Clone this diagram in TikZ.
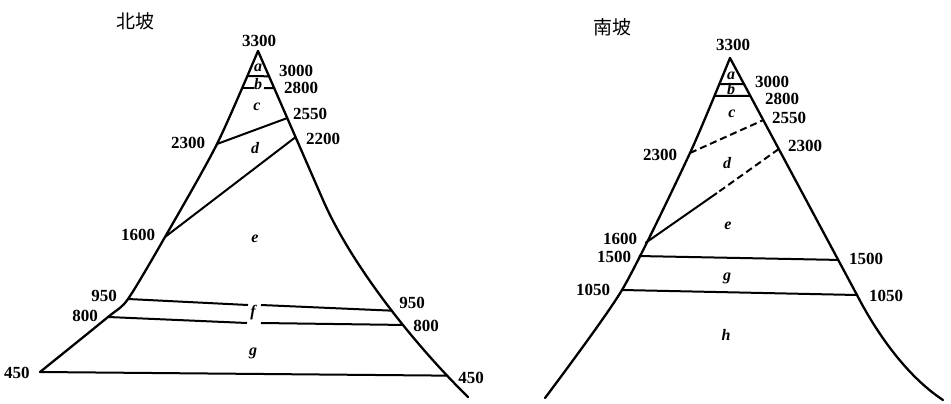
\documentclass[tikz,border=0pt]{standalone}
\usepackage{fontspec}
\setmainfont{Liberation Serif}
\newfontfamily\cjk{Noto Sans CJK SC}
\usetikzlibrary{calc}
\begin{document}
\begin{tikzpicture}[x=1pt,y=-1pt,
  edge/.style={line width=2.3pt,line cap=round,line join=round},
  belt/.style={line width=2pt},
  dashbelt/.style={line width=2pt,dash pattern=on 7pt off 4pt},
  num/.style={font=\bfseries\fontsize{17}{17}\selectfont,inner sep=0pt},
  zone/.style={font=\bfseries\itshape\fontsize{16}{16}\selectfont,inner sep=0pt},
  ttl/.style={font=\cjk\fontsize{19}{19}\selectfont,inner sep=0pt}]
\useasboundingbox (0,0) rectangle (951,404);
% ---------- North slope ----------
\node[ttl] (tN) at (135,21) {北坡};
\coordinate (NP) at (258,51);
\coordinate (NR1) at (323,200);
\coordinate (NLa) at (248,76); \coordinate (NRa) at ($(NP)!0.17!(NR1)$);
\coordinate (NLb) at (243,88); \coordinate (NRb) at ($(NP)!0.25!(NR1)$);
\coordinate (NL23) at (217,144); \coordinate (NR255) at ($(NP)!0.45!(NR1)$);
\coordinate (NL16) at (165,237); \coordinate (NR22) at ($(NP)!0.578!(NR1)$);
\coordinate (NL95) at (128,299);
\coordinate (NL80) at (108,317);
\coordinate (NL45) at (40,372);
\draw[edge] plot[smooth,tension=0.45] coordinates {(NL45) (NL80) (NL95) (NL16) (NL23) (NP)};
\draw[edge] (NP) -- (NR1) .. controls (350,262) and (410,340) .. (468,397)
  coordinate[pos=0.55] (NR95) coordinate[pos=0.62] (NR80) coordinate[pos=0.88] (NR45);
\draw[belt] (NLa) -- (NRa);
\draw[belt] (NLb) -- (254,88);
\draw[belt] (264,88) -- (NRb);
\draw[belt] (NL23) -- (NR255);
\draw[belt] (NL16) -- (NR22);
\draw[belt] (NL95) -- (248,305);
\draw[belt] (261,305) -- (NR95);
\draw[belt] (NL80) -- (247,323);
\draw[belt] (261,323) -- (NR80);
\draw[belt] (NL45) -- (NR45);
\node[num] (n3300) at (259,41) {3300};
\node[num] (n3000) at (296,71) {3000};
\node[num] (n2800) at (301,88) {2800};
\node[num] (n2550) at (310,114) {2550};
\node[num] (n2200) at (323,139) {2200};
\node[num] (n2300) at (188,143) {2300};
\node[num] (n1600) at (138,235) {1600};
\node[num] (n950l) at (104,296) {950};
\node[num] (n800l) at (85,316) {800};
\node[num] (n450l) at (17,373) {450};
\node[num] (n950r) at (412,303) {950};
\node[num] (n800r) at (426,326) {800};
\node[num] (n450r) at (471,378) {450};
\node[zone] (za) at (258,68) {a};
\node[zone] (zb) at (258,84) {b};
\node[zone] (zc) at (257,107) {c};
\node[zone] (zd) at (255,148) {d};
\node[zone] (ze) at (255,239) {e};
\node[zone] (zf) at (253,313) {f};
\node[zone] (zg) at (253,353) {g};
% ---------- South slope ----------
\node[ttl] (tS) at (612,27) {南坡};
\coordinate (SP) at (730,58);
\coordinate (SR105) at (857,295);
\coordinate (SL23) at (690,153); \coordinate (SL105) at (622,290);
\coordinate (SLa) at (719,84); \coordinate (SRa) at ($(SP)!0.11!(SR105)$);
\coordinate (SLb) at (714,96); \coordinate (SRb) at ($(SP)!0.16!(SR105)$);
\coordinate (SR255) at ($(SP)!0.262!(SR105)$);
\coordinate (SR23) at ($(SP)!0.384!(SR105)$);
\coordinate (SL16) at ($(SL23)!0.657!(SL105)$);
\coordinate (SL15) at ($(SL23)!0.752!(SL105)$);
\coordinate (SR15) at ($(SP)!0.852!(SR105)$);
\coordinate (SDe) at (717,193);
\draw[edge] plot[smooth,tension=0.4] coordinates {(545,398) (SL105) (SL23) (SP)};
\draw[edge] (SP) -- (SR105) .. controls (875,330) and (905,375) .. (943,400);
\draw[belt] (SLa) -- (SRa);
\draw[belt] (SLb) -- (SRb);
\draw[dashbelt] (SL23) -- (SR255);
\draw[dashbelt] (SR23) -- (SDe);
\draw[belt] (SDe) -- (SL16);
\draw[belt] (SL15) -- (SR15);
\draw[belt] (SL105) -- (SR105);
\node[num] (s3300) at (733,45) {3300};
\node[num] (s3000) at (772,82) {3000};
\node[num] (s2800) at (782,99) {2800};
\node[num] (s2550) at (789,118) {2550};
\node[num] (s2300l) at (660,155) {2300};
\node[num] (s2300r) at (805,146) {2300};
\node[num] (s1600) at (620,239) {1600};
\node[num] (s1500l) at (614,257) {1500};
\node[num] (s1500r) at (866,259) {1500};
\node[num] (s1050l) at (593,290) {1050};
\node[num] (s1050r) at (886,296) {1050};
\node[zone] (sa) at (731,76) {a};
\node[zone] (sb) at (731,89) {b};
\node[zone] (sc) at (732,114) {c};
\node[zone] (sd) at (727,163) {d};
\node[zone] (se) at (728,226) {e};
\node[zone] (sg) at (727,278) {g};
\node[zone] (sh) at (726,335) {h};
\end{tikzpicture}
\end{document}
